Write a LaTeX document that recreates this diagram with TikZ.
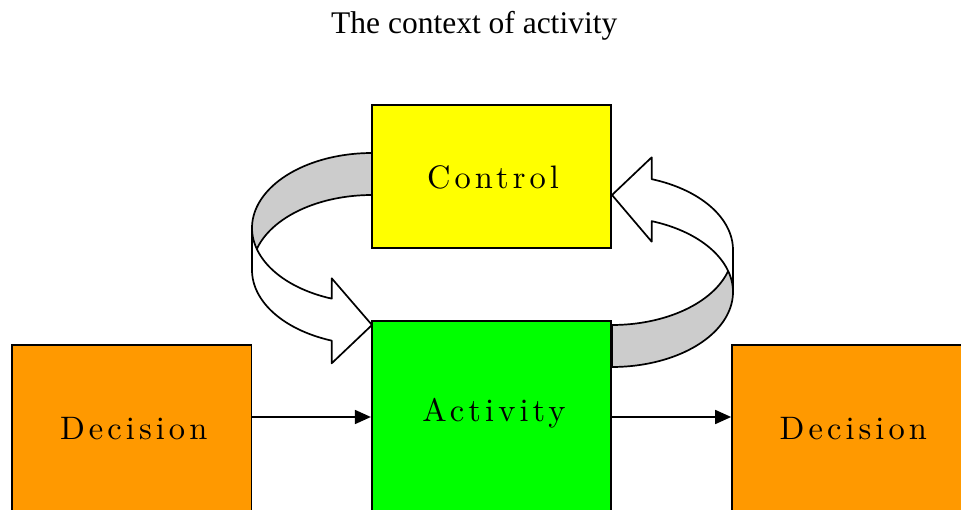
\documentclass[tikz,border=0pt]{standalone}
\usepackage{fontspec}
\newfontfamily\titlefont{Liberation Serif}
\newfontfamily\boxfont[LetterSpace=12.5]{lmroman10-regular.otf}
\usetikzlibrary{arrows.meta}
\definecolor{ctrlyellow}{HTML}{FFFF00}
\definecolor{actgreen}{HTML}{00FF00}
\definecolor{decorange}{HTML}{FF9900}
\definecolor{ribbongray}{HTML}{CCCCCC}
\begin{document}
\begin{tikzpicture}[x=1pt,y=-1pt,
  box/.style={draw=black, line width=1.7pt, inner sep=0pt, minimum width=239.5pt},
  lbl/.style={font=\boxfont\fontsize{32.5}{36}\selectfont, inner sep=0pt},
  conn/.style={line width=1.7pt, -{Triangle[length=16pt,width=14pt]}},
  ribbon/.style={draw=black, line width=1.7pt, line join=round}]
\useasboundingbox (0,0) rectangle (961,510);
\clip (0,0) rectangle (961,510);

\node[font=\titlefont\fontsize{31.5}{38}\selectfont, anchor=base, inner sep=0pt] (title) at (474.2,33.3) {The context of activity};

% left ribbon (Control -> Activity)
\draw[ribbon, fill=ribbongray] (372,153)
  -- plot[domain=270:180, samples=40, variable=\t] ({372+120*cos(\t)},{228+75*sin(\t)})
  -- (252,270)
  -- plot[domain=180:270, samples=40, variable=\t] ({372+120*cos(\t)},{270+75*sin(\t)})
  -- cycle;
\draw[ribbon, fill=white] (252,228) -- (252,270)
  -- plot[domain=180:109.62, samples=40, variable=\t] ({372+120*cos(\t)},{270+75*sin(\t)})
  -- (331.7,363.3) -- (372,325) -- (331.7,278.3)
  -- plot[domain=109.62:180, samples=40, variable=\t] ({372+120*cos(\t)},{228+75*sin(\t)})
  -- cycle;

% right ribbon (Activity -> Control)
\draw[ribbon, fill=ribbongray] (612,325)
  -- plot[domain=90:0, samples=40, variable=\t] ({612+121*cos(\t)},{250+75*sin(\t)})
  -- (733,292)
  -- plot[domain=0:90, samples=40, variable=\t] ({612+121*cos(\t)},{292+75*sin(\t)})
  -- cycle;
\draw[ribbon, fill=white] (612,195) -- (651.7,241.7)
  -- plot[domain=-70.85:0, samples=40, variable=\t] ({612+121*cos(\t)},{292+75*sin(\t)})
  -- (733,250)
  -- plot[domain=0:-70.85, samples=40, variable=\t] ({612+121*cos(\t)},{250+75*sin(\t)})
  -- (651.7,157.3) -- cycle;

% boxes
\node[box, fill=ctrlyellow, minimum height=143pt] (control) at (491.5,176.5) {};
\node[box, fill=actgreen, minimum height=220pt] (activity) at (491.5,431) {};
\node[box, fill=decorange, minimum height=220pt] (decL) at (131.75,455) {};
\node[box, fill=decorange, minimum height=220pt] (decR) at (851.75,455) {};

\node[lbl, anchor=base] (ctrltext) at (493,189) {Control};
\node[lbl, anchor=base] (acttext) at (494,421.7) {Activity};
\node[lbl, anchor=base] (decLtext) at (133.7,439.3) {Decision};
\node[lbl, anchor=base] (decRtext) at (853.3,439.3) {Decision};

% connectors
\coordinate (ya) at (0,417);
\draw[conn] (decL.east |- ya) -- (activity.west |- ya);
\draw[conn] (activity.east |- ya) -- (decR.west |- ya);
\end{tikzpicture}
\end{document}
